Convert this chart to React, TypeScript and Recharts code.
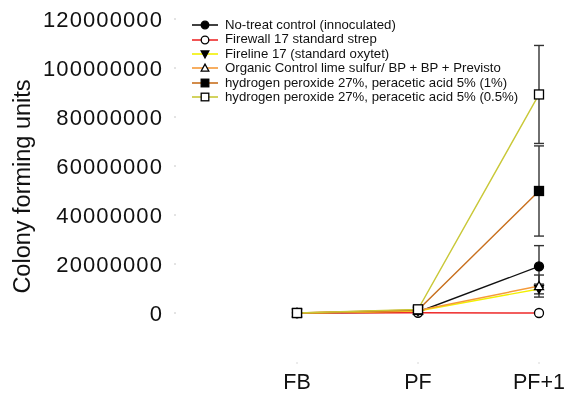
import React from 'react';
import { LineChart, Line, XAxis, YAxis, ErrorBar, Legend } from 'recharts';

// Sampling stages
const stages = ['FB', 'PF', 'PF+1'];

// Colony forming units per treatment (mean), and standard error
const noTreat = [0, 400000, 19000000];
const noTreatErr = [null, null, 8500000];
const firewall = [0, 100000, 0];
const firewallErr = [null, null, 300000];
const fireline = [0, 800000, 9800000];
const firelineErr = [null, null, 2000000];
const organic = [0, 1000000, 11000000];
const organicErr = [null, null, 4500000];
const hp1 = [0, 1200000, 49800000];
const hp1Err = [null, null, 18400000];
const hp05 = [0, 1500000, 89200000];
const hp05Err = [null, null, 20000000];

const yTicks = [0, 20000000, 40000000, 60000000, 80000000, 100000000, 120000000];

type Shape = 'circle' | 'triDown' | 'triUp' | 'square';

interface SeriesDef {
  key: string;
  name: string;
  color: string;
  shape: Shape;
  filled: boolean;
  values: number[];
  errors: (number | null)[];
}

const series: SeriesDef[] = [
  { key: 'noTreat', name: 'No-treat control (innoculated)', color: '#111111', shape: 'circle', filled: true, values: noTreat, errors: noTreatErr },
  { key: 'firewall', name: 'Firewall 17 standard strep', color: '#ee2a2a', shape: 'circle', filled: false, values: firewall, errors: firewallErr },
  { key: 'fireline', name: 'Fireline 17 (standard oxytet)', color: '#f2f000', shape: 'triDown', filled: true, values: fireline, errors: firelineErr },
  { key: 'organic', name: 'Organic Control lime sulfur/ BP + BP + Previsto', color: '#f59a3a', shape: 'triUp', filled: false, values: organic, errors: organicErr },
  { key: 'hp1', name: 'hydrogen peroxide 27%, peracetic acid 5% (1%)', color: '#c8701e', shape: 'square', filled: true, values: hp1, errors: hp1Err },
  { key: 'hp05', name: 'hydrogen peroxide 27%, peracetic acid 5% (0.5%)', color: '#c9c838', shape: 'square', filled: false, values: hp05, errors: hp05Err },
];

const data = stages.map((stage, i) => {
  const row: Record<string, string | number | null> = { stage };
  series.forEach((s) => {
    row[s.key] = s.values[i];
    row[s.key + 'Err'] = s.errors[i];
  });
  return row;
});

const FONT = "Arial, 'Liberation Sans', sans-serif";

function MarkerShape({ cx, cy, shape, filled, r = 4.5 }: { cx: number; cy: number; shape: Shape; filled: boolean; r?: number }) {
  const fill = filled ? '#000' : '#fff';
  const stroke = '#000';
  const sw = 1.3;
  if (shape === 'circle') {
    return <circle cx={cx} cy={cy} r={r} fill={fill} stroke={stroke} strokeWidth={sw} />;
  }
  if (shape === 'square') {
    return <rect x={cx - r} y={cy - r} width={2 * r} height={2 * r} fill={fill} stroke={stroke} strokeWidth={sw} />;
  }
  if (shape === 'triDown') {
    const pts = `${cx - r},${cy - r * 0.8} ${cx + r},${cy - r * 0.8} ${cx},${cy + r}`;
    return <polygon points={pts} fill={fill} stroke={stroke} strokeWidth={sw} />;
  }
  const pts = `${cx - r},${cy + r * 0.8} ${cx + r},${cy + r * 0.8} ${cx},${cy - r}`;
  return <polygon points={pts} fill={fill} stroke={stroke} strokeWidth={sw} />;
}

function LegendBox() {
  return (
    <div style={{ fontFamily: FONT, fontSize: 13.2, color: '#111', lineHeight: '14.4px' }}>
      {series.map((s) => (
        <div key={s.key} style={{ display: 'flex', alignItems: 'center', height: 14.4, whiteSpace: 'nowrap' }}>
          <svg width={33} height={14} style={{ display: 'block' }}>
            <line x1={0} y1={7} x2={26} y2={7} stroke={s.color} strokeWidth={1.6} />
            <MarkerShape cx={13} cy={7} shape={s.shape} filled={s.filled} r={3.8} />
          </svg>
          <span>{s.name}</span>
        </div>
      ))}
    </div>
  );
}

export default function App() {
  return (
    <div style={{ position: 'fixed', left: 0, top: 0, width: 566, height: 394 }}>
      <LineChart
        width={566}
        height={394}
        data={data}
        margin={{ top: 19, right: 27, bottom: 0, left: 0 }}
        style={{ fontFamily: FONT }}
      >
        <XAxis
          dataKey="stage"
          padding={{ left: 121, right: 0 }}
          axisLine={false}
          tickLine={{ stroke: '#d8d8d8' }}
          tickSize={2}
          tickMargin={10}
          height={32}
          tick={{ fontSize: 21.5, fill: '#111', fontFamily: FONT }}
        />
        <YAxis
          type="number"
          domain={[-20000000, 120000000]}
          ticks={yTicks}
          interval={0}
          width={176}
          axisLine={false}
          tickLine={{ stroke: '#c8c8c8' }}
          tickSize={2}
          tickMargin={11}
          tickFormatter={(v: number) => String(v)}
          tick={{ fontSize: 22, fill: '#111', fontFamily: FONT, letterSpacing: 1.1 }}
          label={{
            value: 'Colony forming units',
            angle: -90,
            position: 'center',
            dx: -66,
            dy: -4,
            style: { fontSize: 23.5, fill: '#111', fontFamily: FONT, textAnchor: 'middle' },
          }}
        />
        <Legend
          layout="vertical"
          verticalAlign="middle"
          align="center"
          wrapperStyle={{ left: 192, top: 18, width: 'auto' }}
          content={() => <LegendBox />}
        />
        {series.map((s) => (
          <Line
            key={s.key}
            dataKey={s.key}
            name={s.name}
            stroke={s.color}
            strokeWidth={1.4}
            isAnimationActive={false}
            dot={(p: any) => (
              <MarkerShape key={`${s.key}-${p.index}`} cx={p.cx} cy={p.cy} shape={s.shape} filled={s.filled} />
            )}
            activeDot={false}
          >
            <ErrorBar dataKey={s.key + 'Err'} width={5} stroke="#333" strokeWidth={1.4} direction="y" />
          </Line>
        ))}
      </LineChart>
    </div>
  );
}
